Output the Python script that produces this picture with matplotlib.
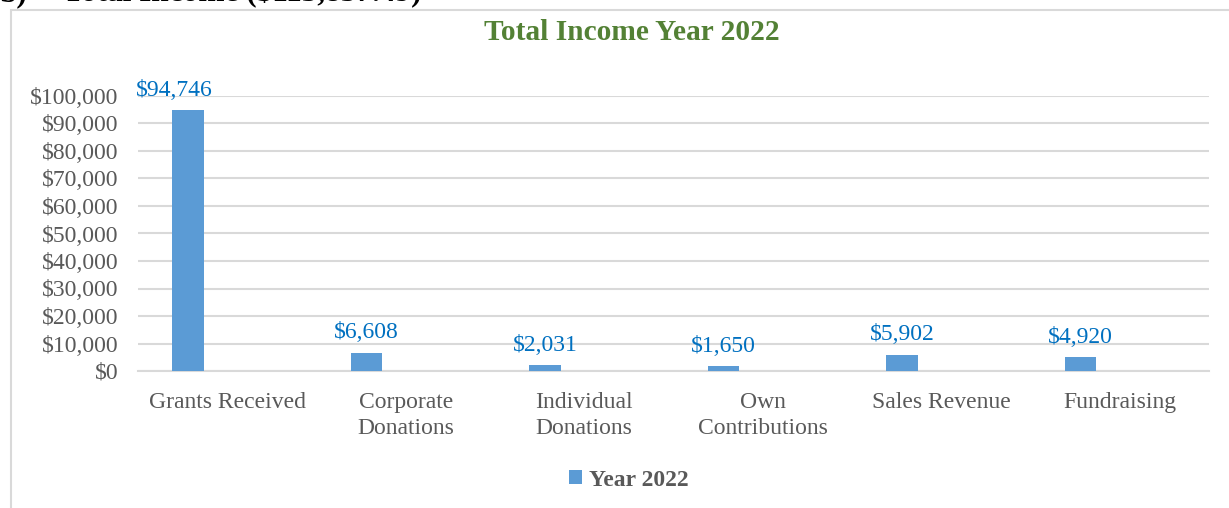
import numpy as np
import matplotlib.pyplot as plt
from matplotlib.patches import Rectangle

plt.rcParams['font.family'] = ['Liberation Serif', 'DejaVu Serif']

categories = ["Grants Received", "Corporate\nDonations", "Individual\nDonations",
              "Own\nContributions", "Sales Revenue", "Fundraising"]
income_2022 = [94746, 6608, 2031, 1650, 5902, 4920]
y_ticks = list(range(0, 100001, 10000))

W, H = 1229, 508
fig = plt.figure(figsize=(W / 100, H / 100), dpi=100)

# chart frame, runs off the right and bottom edges
fig.patches.append(Rectangle((11 / W, -0.1), 1.2, 1.1 - 10 / H, transform=fig.transFigure,
                             fill=False, edgecolor='#D9D9D9', linewidth=1.5))

# section heading above the chart (mostly cut off by the page)
fig.text(0.0, 1 - 1.5 / H, "b)", fontsize=22.5, fontweight='bold', color='black', va='baseline')
fig.text(63 / W, 1 - 1.5 / H, "Total Income ($113,857.49)", fontsize=22.5, fontweight='bold',
         color='black', va='baseline')

ax = fig.add_axes([138 / W, (H - 371) / H, (1209 - 138) / W, (371 - 96) / H])

x = np.arange(len(categories))
bar_x = x - 0.22
bars = ax.bar(bar_x, income_2022, width=0.175, color='#5B9BD5', label='Year 2022', zorder=3)

for i, (bx, v) in enumerate(zip(bar_x, income_2022)):
    # the tall first label is nudged left, away from the bar
    dx = -10 if i == 0 else 0
    ax.annotate(f"${v:,}", (bx, v), xytext=(dx, 7), textcoords='offset points',
                ha='center', va='bottom', fontsize=17, color='#0070C0', annotation_clip=False)

ax.set_xlim(-0.5, len(categories) - 0.5)
ax.set_ylim(0, 100000)
ax.set_yticks(y_ticks)
ax.set_yticklabels([f"${t:,}" for t in y_ticks])
ax.set_xticks(x)
ax.set_xticklabels(categories, linespacing=1.3)
ax.tick_params(axis='y', length=0, pad=14, labelsize=17, labelcolor='#595959')
ax.tick_params(axis='x', length=0, pad=15, labelsize=17, labelcolor='#595959')

ax.grid(axis='y', color='#D9D9D9', linewidth=1.5, zorder=0)
for s in ['top', 'right', 'left']:
    ax.spines[s].set_visible(False)
ax.spines['bottom'].set_color('#D9D9D9')
ax.spines['bottom'].set_linewidth(1.5)

fig.text(632 / W, 1 - 33 / H, "Total Income Year 2022", fontsize=21.2, fontweight='bold',
         color='#538135', ha='center', va='center')

fig.legend(handles=[bars], labels=['Year 2022'], loc='center', bbox_to_anchor=(629 / W, 1 - 480 / H),
           frameon=False, handlelength=0.55, handleheight=0.55, handletextpad=0.3,
           prop={'size': 17, 'weight': 'bold'}, labelcolor='#595959')

fig.savefig('out.png', dpi=100)
